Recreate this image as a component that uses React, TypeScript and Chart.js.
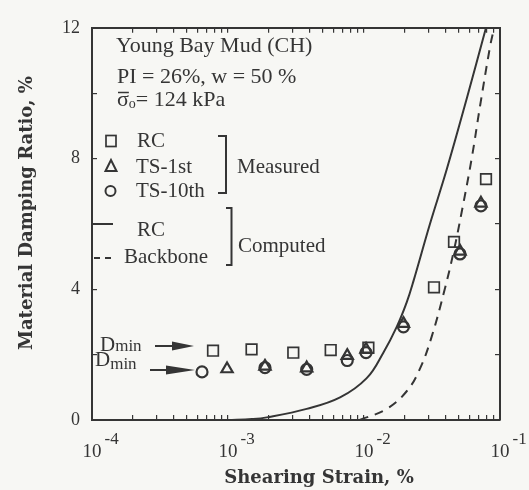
import React, { useEffect, useRef } from "react";
import { Chart, registerables } from "chart.js";

Chart.register(...registerables);

// ---------- data ----------
const rcStrain = [7.76e-4, 1.49e-3, 3.02e-3, 5.69e-3, 1.077e-2, 0.0327, 0.0459, 0.0789];
const rcDamping = [2.12, 2.16, 2.06, 2.14, 2.21, 4.06, 5.45, 7.37];

const ts1Strain = [9.84e-4, 1.87e-3, 3.79e-3, 7.53e-3, 1.035e-2, 1.95e-2, 0.0508, 0.0724];
const ts1Damping = [1.56, 1.64, 1.59, 1.97, 2.16, 2.95, 5.16, 6.63];

const ts10Strain = [6.44e-4, 1.87e-3, 3.79e-3, 7.53e-3, 1.035e-2, 1.95e-2, 0.0508, 0.0724];
const ts10Damping = [1.47, 1.6, 1.55, 1.82, 2.06, 2.85, 5.08, 6.55];

const rcCurveStrain = [0.001, 0.0015, 0.00193, 0.00379, 0.00667, 0.01047, 0.01387, 0.0174, 0.0206, 0.0231, 0.0305, 0.0406, 0.0569, 0.0789];
const rcCurveDamping = [0, 0.03, 0.08, 0.34, 0.69, 1.28, 2.06, 2.85, 3.6, 4.25, 5.99, 7.67, 9.83, 12];

const backboneStrain = [0.0093, 0.01469, 0.0206, 0.0258, 0.0315, 0.0394, 0.0459, 0.0522, 0.0619, 0.0713, 0.0843, 0.0905];
const backboneDamping = [0, 0.34, 0.88, 1.57, 2.56, 4.03, 5.2, 6.35, 8.0, 9.6, 11.4, 12];

const xTickExponents = [-4, -3, -2, -1];
const yMin = 0;
const yMax = 12;
const yStep = 2;
const yLabelEvery = 4;

const infoLines = ["Young Bay Mud (CH)", "PI = 26%, w = 50 %"];
const measuredLabels = ["RC", "TS-1st", "TS-10th"];
const computedLabels = ["RC", "Backbone"];

// ---------- style ----------
const INK = "#353535";
const BG = "#f7f7f4";
const SERIF = '"Liberation Serif", "Times New Roman", serif';
const TITLE_FONT = 'bold 18px "DejaVu Serif", serif';

const zip = (xs: number[], ys: number[]) => xs.map((x, i) => ({ x, y: ys[i] }));

const dropHalfTicks = (scale: any) => {
  scale.ticks = scale.ticks.filter((t: any) => {
    const m = t.value / Math.pow(10, Math.floor(Math.log10(t.value) + 1e-9));
    return Math.abs(m - 1.5) > 0.01;
  });
};

const annotationPlugin = {
  id: "annotations",
  afterDraw(chart: any) {
    const ctx: CanvasRenderingContext2D = chart.ctx;
    const xs = chart.scales.x;
    ctx.save();
    ctx.fillStyle = INK;
    ctx.strokeStyle = INK;
    ctx.textBaseline = "alphabetic";

    // x tick labels: 10 with exponent
    for (const e of xTickExponents) {
      const px = xs.getPixelForValue(Math.pow(10, e));
      ctx.font = `19px ${SERIF}`;
      ctx.textAlign = "center";
      ctx.fillText("10", px, 457);
      const w = ctx.measureText("10").width;
      ctx.font = `17px ${SERIF}`;
      ctx.textAlign = "left";
      ctx.fillText(String(e), px + w / 2 + 3, 444);
    }

    // axis titles
    ctx.font = TITLE_FONT;
    ctx.textAlign = "center";
    ctx.fillText("Shearing Strain, %", 319, 483);
    ctx.save();
    ctx.translate(32, 213);
    ctx.rotate(-Math.PI / 2);
    ctx.fillText("Material Damping Ratio, %", 0, 0);
    ctx.restore();

    // info block
    ctx.textAlign = "left";
    ctx.font = `22px ${SERIF}`;
    ctx.fillText(infoLines[0], 116, 52);
    ctx.fillText(infoLines[1], 117, 83);
    // sigma-bar-o line
    ctx.fillText("σ", 117, 106);
    const sw = ctx.measureText("σ").width;
    ctx.lineWidth = 1.5;
    ctx.beginPath();
    ctx.moveTo(118, 92.5);
    ctx.lineTo(117 + sw, 92.5);
    ctx.stroke();
    ctx.font = `14px ${SERIF}`;
    ctx.fillText("o", 117 + sw, 108);
    const ow = ctx.measureText("o").width;
    ctx.font = `22px ${SERIF}`;
    ctx.fillText("= 124 kPa", 117 + sw + ow, 106);

    // legend: measured
    ctx.lineWidth = 1.7;
    ctx.strokeRect(106, 135.5, 10, 11);
    ctx.lineWidth = 2;
    ctx.beginPath();
    ctx.moveTo(111, 160);
    ctx.lineTo(105.5, 171);
    ctx.lineTo(116.5, 171);
    ctx.closePath();
    ctx.stroke();
    ctx.beginPath();
    ctx.arc(110.5, 191, 5, 0, Math.PI * 2);
    ctx.stroke();
    ctx.font = `21px ${SERIF}`;
    ctx.fillText(measuredLabels[0], 137, 147);
    ctx.fillText(measuredLabels[1], 136, 173);
    ctx.fillText(measuredLabels[2], 136, 197);
    // bracket 1
    ctx.lineWidth = 2;
    ctx.beginPath();
    ctx.moveTo(218, 136);
    ctx.lineTo(226, 136);
    ctx.lineTo(226, 193);
    ctx.lineTo(218, 193);
    ctx.stroke();
    ctx.fillText("Measured", 237, 173);

    // legend: computed
    ctx.lineWidth = 2;
    ctx.beginPath();
    ctx.moveTo(93, 224);
    ctx.lineTo(113, 224);
    ctx.stroke();
    ctx.beginPath();
    ctx.moveTo(94, 258);
    ctx.lineTo(100, 258);
    ctx.moveTo(105, 258);
    ctx.lineTo(111, 258);
    ctx.stroke();
    ctx.fillText(computedLabels[0], 137, 236);
    ctx.fillText(computedLabels[1], 124, 263);
    ctx.beginPath();
    ctx.moveTo(226, 208);
    ctx.lineTo(231.5, 208);
    ctx.lineTo(231.5, 265);
    ctx.lineTo(226, 265);
    ctx.stroke();
    ctx.fillText("Computed", 238, 252);

    // Dmin annotations
    ctx.font = `21px ${SERIF}`;
    ctx.fillText("D", 100, 351);
    let dw = ctx.measureText("D").width;
    ctx.font = `17px ${SERIF}`;
    ctx.fillText("min", 100 + dw, 351);
    ctx.font = `21px ${SERIF}`;
    ctx.fillText("D", 95, 366);
    dw = ctx.measureText("D").width;
    ctx.font = `17px ${SERIF}`;
    ctx.fillText("min", 95 + dw, 369);

    ctx.lineWidth = 2;
    ctx.beginPath();
    ctx.moveTo(155, 346);
    ctx.lineTo(176, 346);
    ctx.moveTo(150, 370);
    ctx.lineTo(170, 370);
    ctx.stroke();
    ctx.beginPath();
    ctx.moveTo(172, 341.5);
    ctx.lineTo(194, 346);
    ctx.lineTo(172, 350.5);
    ctx.closePath();
    ctx.fill();
    ctx.beginPath();
    ctx.moveTo(166, 365.5);
    ctx.lineTo(195, 370);
    ctx.lineTo(166, 374.5);
    ctx.closePath();
    ctx.fill();

    ctx.restore();
  },
};

const gridCfg = {
  display: true,
  drawOnChartArea: false,
  drawTicks: true,
  tickLength: -5,
  color: INK,
  lineWidth: 1.2,
};
const borderCfg = { display: true, color: INK, width: 2 };

export default function App() {
  const ref = useRef<HTMLCanvasElement | null>(null);

  useEffect(() => {
    if (!ref.current) return;
    const chart = new Chart(ref.current, {
      type: "scatter",
      data: {
        datasets: [
          {
            label: "RC computed",
            data: zip(rcCurveStrain, rcCurveDamping),
            showLine: true,
            pointRadius: 0,
            borderColor: INK,
            borderWidth: 2,
            tension: 0.4,
            order: 5,
          },
          {
            label: "Backbone",
            data: zip(backboneStrain, backboneDamping),
            showLine: true,
            pointRadius: 0,
            borderColor: INK,
            borderWidth: 2,
            borderDash: [9, 7],
            tension: 0.4,
            order: 4,
          },
          {
            label: "RC",
            data: zip(rcStrain, rcDamping),
            pointStyle: "rect",
            pointRadius: 7.5,
            borderWidth: 1.7,
            borderColor: INK,
            backgroundColor: "rgba(0,0,0,0)",
            order: 1,
          },
          {
            label: "TS-1st",
            data: zip(ts1Strain, ts1Damping),
            pointStyle: "triangle",
            pointRadius: 6.5,
            borderWidth: 2.2,
            borderColor: INK,
            backgroundColor: "rgba(0,0,0,0)",
            order: 2,
          },
          {
            label: "TS-10th",
            data: zip(ts10Strain, ts10Damping),
            pointStyle: "circle",
            pointRadius: 5.5,
            borderWidth: 2.2,
            borderColor: INK,
            backgroundColor: "rgba(0,0,0,0)",
            order: 3,
          },
        ],
      },
      options: {
        responsive: false,
        animation: false,
        events: [],
        devicePixelRatio: 1,
        layout: { padding: { left: 8, right: 29, top: 13, bottom: 0 } },
        plugins: { legend: { display: false }, tooltip: { enabled: false }, title: { display: false } },
        scales: {
          x: {
            type: "logarithmic",
            position: "bottom",
            min: 1e-4,
            max: 1e-1,
            grid: gridCfg,
            border: borderCfg,
            ticks: { display: false },
            afterBuildTicks: dropHalfTicks,
            afterFit: (s: any) => {
              s.height = 70;
            },
          },
          x2: {
            type: "logarithmic",
            position: "top",
            min: 1e-4,
            max: 1e-1,
            grid: gridCfg,
            border: borderCfg,
            ticks: { display: false },
            afterBuildTicks: dropHalfTicks,
            afterFit: (s: any) => {
              s.height = 0;
            },
          },
          y: {
            type: "linear",
            position: "left",
            min: yMin,
            max: yMax,
            grid: gridCfg,
            border: borderCfg,
            ticks: {
              stepSize: yStep,
              padding: 17,
              color: INK,
              font: { family: SERIF, size: 18 },
              callback: (v: any) => (Number(v) % yLabelEvery === 0 ? String(v) : ""),
            },
            afterFit: (s: any) => {
              s.width = 84;
            },
          },
          y2: {
            type: "linear",
            position: "right",
            min: yMin,
            max: yMax,
            grid: gridCfg,
            border: borderCfg,
            ticks: { display: false, stepSize: yStep },
            afterFit: (s: any) => {
              s.width = 0;
            },
          },
        },
      },
      plugins: [annotationPlugin],
    } as any);
    return () => chart.destroy();
  }, []);

  return (
    <div style={{ position: "fixed", left: 0, top: 0, width: 529, height: 490, background: BG }}>
      <canvas ref={ref} width={529} height={490} style={{ display: "block" }} />
    </div>
  );
}
